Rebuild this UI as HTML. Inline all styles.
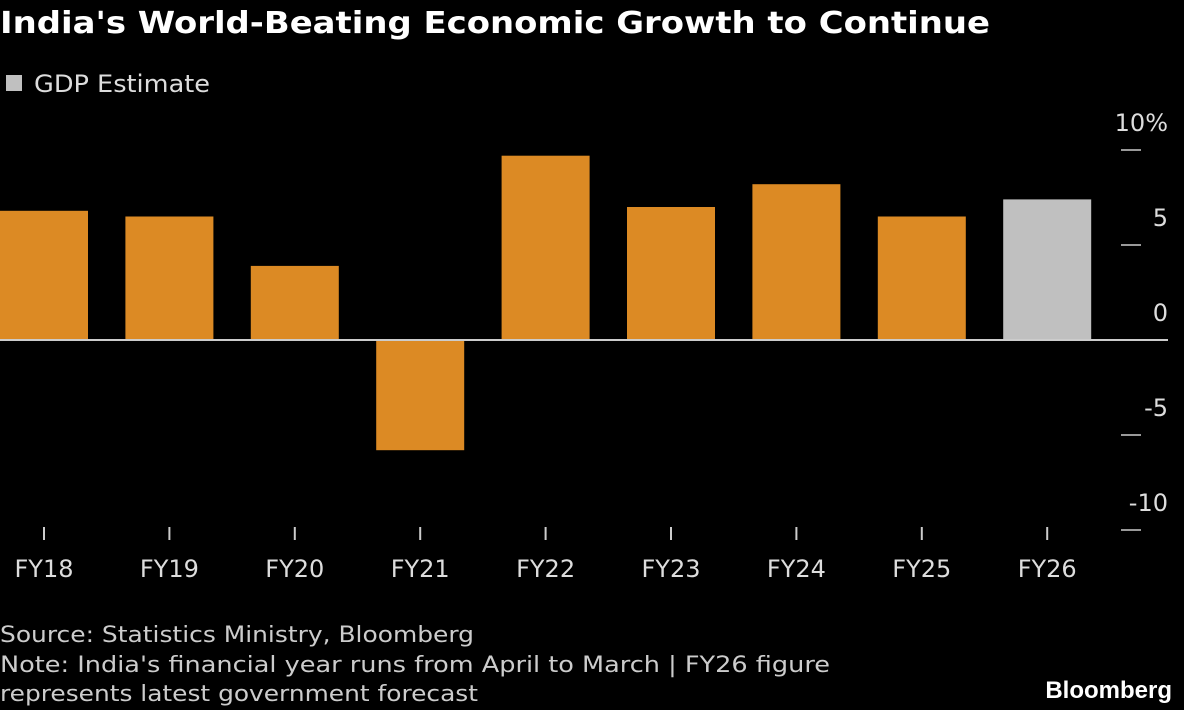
<!DOCTYPE html>
<html><head><meta charset="utf-8"><style>
body{margin:0;background:#000;width:1184px;height:710px;overflow:hidden;font-family:"DejaVu Sans",sans-serif;}
svg{display:block}
</style></head><body>
<svg id="c" width="1184" height="710" xmlns="http://www.w3.org/2000/svg">
<text x="0" y="33" fill="#fff" font-size="30" font-weight="bold" font-family="DejaVu Sans, sans-serif" textLength="990" lengthAdjust="spacingAndGlyphs">India's World-Beating Economic Growth to Continue</text>
<rect x="6" y="75" width="16" height="16" fill="#c0c0c0"/>
<text x="34" y="92" fill="#ddd" font-size="24" font-family="DejaVu Sans, sans-serif" textLength="176" lengthAdjust="spacingAndGlyphs">GDP Estimate</text>
<g id="bars"></g><g id="axes"></g>
<text x="0" y="642" fill="#ccc" font-size="22" font-family="DejaVu Sans, sans-serif" textLength="474" lengthAdjust="spacingAndGlyphs">Source: Statistics Ministry, Bloomberg</text>
<text x="0" y="672" fill="#ccc" font-size="22" font-family="DejaVu Sans, sans-serif" textLength="830" lengthAdjust="spacingAndGlyphs">Note: India's financial year runs from April to March | FY26 figure</text>
<text x="0" y="701" fill="#ccc" font-size="22" font-family="DejaVu Sans, sans-serif" textLength="478" lengthAdjust="spacingAndGlyphs">represents latest government forecast</text>
<text x="1172" y="698" fill="#fff" font-size="24" font-weight="bold" font-family="Liberation Sans, sans-serif" text-anchor="end">Bloomberg</text>
</svg>
<script>
const categories=["FY18","FY19","FY20","FY21","FY22","FY23","FY24","FY25","FY26"];
const values=[6.8,6.5,3.9,-5.8,9.7,7.0,8.2,6.5,7.4];
const estimate=[false,false,false,false,false,false,false,false,true];
const yTicks=[10,5,0,-5,-10];
const yTickLabels=["10%","5","0","-5","-10"];
const NS="http://www.w3.org/2000/svg";
function y(v){return 340-v*19;}
function xc(i){return 44+i*125.4;}
function mk(t,a,p){const e=document.createElementNS(NS,t);for(const k in a)e.setAttribute(k,a[k]);p.appendChild(e);return e;}
const bars=document.getElementById('bars'),axes=document.getElementById('axes');
values.forEach((v,i)=>{
 const r=mk('rect',{x:xc(i)-44,y:Math.min(y(v),y(0)),width:88,height:Math.abs(y(v)-y(0)),fill:estimate[i]?'#c0c0c0':'#dc8a24'},bars);
 
 
 const tk=mk('line',{x1:xc(i),x2:xc(i),y1:527,y2:540,stroke:'#ccc','stroke-width':2},axes);
 
 
 const t=mk('text',{x:xc(i),y:577,fill:'#ddd','font-size':24,'text-anchor':'middle'},axes);
 t.textContent=categories[i];
 
 
});
yTicks.forEach((v,i)=>{
 if(v!==0){const l=mk('line',{x1:1121,x2:1141,y1:y(v),y2:y(v),stroke:'#ccc','stroke-width':1.5},axes);
 
 }
 const t=mk('text',{x:1168,y:y(v)-19,fill:'#ddd','font-size':24,'text-anchor':'end'},axes);
 t.textContent=yTickLabels[i];
 
 
});
const z=mk('line',{x1:0,x2:1168,y1:y(0),y2:y(0),stroke:'#ccc','stroke-width':2},axes);


</script>
</body></html>
